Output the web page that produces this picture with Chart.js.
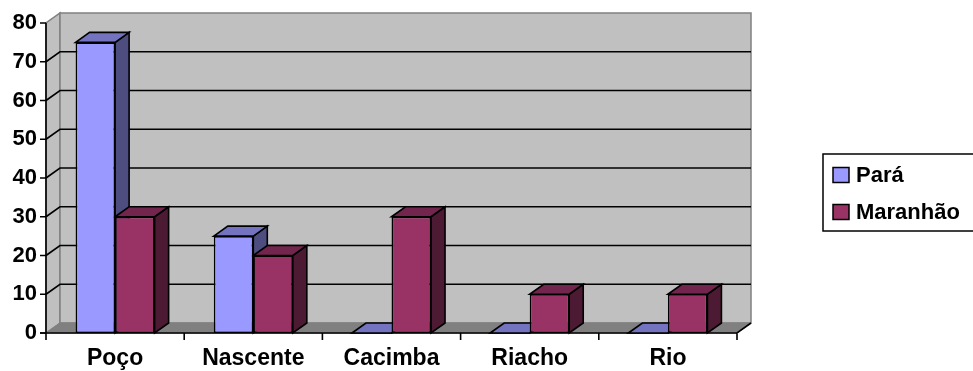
<!DOCTYPE html>
<html>
<head>
<meta charset="utf-8">
<script src="https://cdn.jsdelivr.net/npm/chart.js@4/dist/chart.umd.min.js"></script>
<style>
html,body{margin:0;padding:0;background:#fff;}
#c{display:block;}
</style>
</head>
<body>
<canvas id="c" width="973" height="371"></canvas>
<script>
const categories = ['Poço', 'Nascente', 'Cacimba', 'Riacho', 'Rio'];
const seriesNames = ['Pará', 'Maranhão'];
const para = [75, 25, 0, 0, 0];
const maranhao = [30, 20, 30, 10, 10];
const yMin = 0, yMax = 80, yStep = 10;

const FONT = "'Liberation Sans', Arial, sans-serif";
const frontColors = ['#9999FF', '#993366'];
const topColors = ['#7373BF', '#73264D'];
const sideColors = ['#4D4D80', '#4D1A33'];
const DX = 14, DY = -10;

function poly(ctx, pts, fill, stroke, lw) {
  ctx.beginPath();
  ctx.moveTo(pts[0][0], pts[0][1]);
  for (let i = 1; i < pts.length; i++) ctx.lineTo(pts[i][0], pts[i][1]);
  ctx.closePath();
  if (fill) { ctx.fillStyle = fill; ctx.fill(); }
  if (stroke) { ctx.strokeStyle = stroke; ctx.lineWidth = lw || 1; ctx.stroke(); }
}

const threeD = {
  id: 'threeD',
  beforeDatasetsDraw(chart) {
    const ctx = chart.ctx;
    const ca = chart.chartArea;
    const ys = chart.scales.y;
    const L = ca.left, R = ca.right, T = ca.top, B = ca.bottom;
    ctx.save();
    ctx.lineJoin = 'miter';
    poly(ctx, [[L, B], [L, T], [L + DX, T + DY], [L + DX, B + DY]], '#C0C0C0', '#808080', 1.5);
    poly(ctx, [[L + DX, T + DY], [R + DX, T + DY], [R + DX, B + DY], [L + DX, B + DY]], '#C0C0C0', '#808080', 1.5);
    poly(ctx, [[L, B], [L + DX, B + DY], [R + DX, B + DY], [R, B]], '#808080', '#808080', 1);
    ctx.strokeStyle = '#000';
    ctx.lineWidth = 1.6;
    for (let v = yMin + yStep; v < yMax; v += yStep) {
      const yp = ys.getPixelForValue(v);
      ctx.beginPath();
      ctx.moveTo(L, yp);
      ctx.lineTo(L + DX, yp + DY);
      ctx.lineTo(R + DX, yp + DY);
      ctx.stroke();
    }
    ctx.beginPath();
    ctx.moveTo(L, T);
    ctx.lineTo(L, B);
    for (let v = yMin; v <= yMax; v += yStep) {
      const yp = ys.getPixelForValue(v);
      ctx.moveTo(L - 6, yp);
      ctx.lineTo(L, yp);
    }
    ctx.stroke();
    ctx.beginPath();
    ctx.moveTo(L - 6, B);
    ctx.lineTo(R, B);
    ctx.lineTo(R + DX, B + DY);
    const n = categories.length;
    const cw = (R - L) / n;
    for (let i = 0; i <= n; i++) {
      const xp = L + i * cw;
      ctx.moveTo(xp, B);
      ctx.lineTo(xp, B + 7);
    }
    ctx.stroke();
    chart.data.datasets.forEach((ds, di) => {
      const meta = chart.getDatasetMeta(di);
      meta.data.forEach((bar) => {
        const p = bar.getProps(['x', 'y', 'base', 'width'], true);
        const l = p.x - p.width / 2, r = p.x + p.width / 2;
        const top = Math.min(p.y, p.base), bot = Math.max(p.y, p.base);
        poly(ctx, [[r, top], [r + DX, top + DY], [r + DX, bot + DY], [r, bot]], sideColors[di], '#000', 1.6);
        poly(ctx, [[l, top], [l + DX, top + DY], [r + DX, top + DY], [r, top]], topColors[di], '#000', 1.6);
      });
    });
    ctx.restore();
  },
  afterDraw(chart) {
    const ctx = chart.ctx;
    ctx.save();
    ctx.strokeStyle = '#000';
    ctx.lineWidth = 1.5;
    ctx.strokeRect(823, 154, 200, 77);
    const items = [[seriesNames[0], frontColors[0], 175], [seriesNames[1], frontColors[1], 212]];
    ctx.font = 'bold 22px ' + FONT;
    ctx.textBaseline = 'middle';
    ctx.textAlign = 'left';
    items.forEach(([label, col, cy]) => {
      ctx.fillStyle = col;
      ctx.fillRect(833, cy - 7.5, 16, 15);
      ctx.strokeStyle = '#000';
      ctx.lineWidth = 1.5;
      ctx.strokeRect(833, cy - 7.5, 16, 15);
      ctx.fillStyle = '#000';
      ctx.fillText(label, 856, cy + 1);
    });
    ctx.restore();
  }
};

new Chart(document.getElementById('c'), {
  type: 'bar',
  data: {
    labels: categories,
    datasets: [
      { label: seriesNames[0], data: para, backgroundColor: frontColors[0], borderColor: '#000', borderWidth: 1.6, borderSkipped: false },
      { label: seriesNames[1], data: maranhao, backgroundColor: frontColors[1], borderColor: '#000', borderWidth: 1.6, borderSkipped: false }
    ]
  },
  options: {
    responsive: false,
    animation: false,
    devicePixelRatio: 1,
    layout: { padding: { left: 0, top: 23, right: 236, bottom: 0 } },
    datasets: { bar: { categoryPercentage: 0.572, barPercentage: 1 } },
    plugins: { legend: { display: false }, tooltip: { enabled: false } },
    scales: {
      x: {
        grid: { display: false, drawTicks: false },
        border: { display: false },
        ticks: { color: '#000', padding: 12, font: { family: FONT, size: 23, weight: 'bold' }, maxRotation: 0 },
        afterFit(scale) { scale.height = 38; }
      },
      y: {
        min: yMin, max: yMax,
        grid: { display: false, drawTicks: false },
        border: { display: false },
        ticks: { stepSize: yStep, color: '#000', padding: 9, font: { family: FONT, size: 22, weight: 'bold' } },
        afterFit(scale) { scale.width = 46; }
      }
    }
  },
  plugins: [threeD]
});
</script>
</body>
</html>
